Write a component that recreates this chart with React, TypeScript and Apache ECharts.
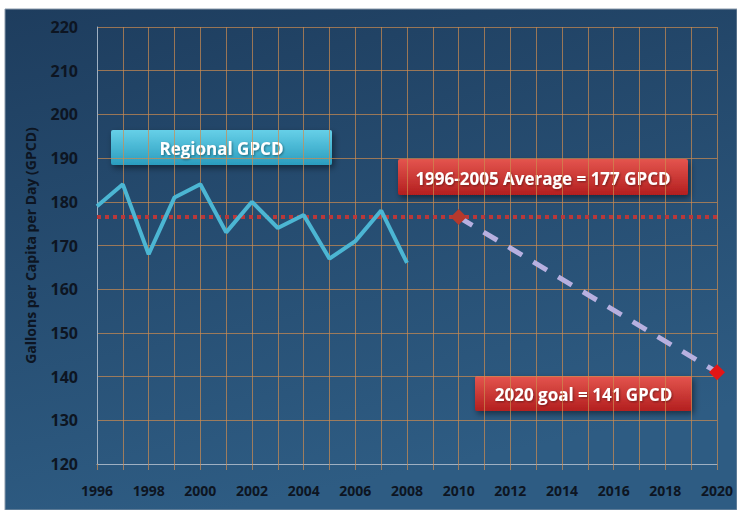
import React, { useEffect, useRef } from "react";
import * as echarts from "echarts";

const years = [1996, 1997, 1998, 1999, 2000, 2001, 2002, 2003, 2004, 2005, 2006, 2007, 2008];
const regionalGpcd = [179, 184, 168, 181, 184, 173, 180, 174, 177, 167, 171, 178, 166];
const averageYears = [1996, 2020];
const averageValue = 176.5;
const goalYears = [2010, 2020];
const goalValues = [176.5, 141];
const labels = ["Regional GPCD", "1996-2005 Average = 177 GPCD", "2020 goal = 141 GPCD"];

const FONT = "'Open Sans', Lato, sans-serif";

function box(x: number, y: number, w: number, h: number, text: string, top: string, bottom: string) {
  return {
    type: "group",
    x,
    y,
    children: [
      {
        type: "rect",
        shape: { x: 0, y: 0, width: w, height: h, r: 2 },
        style: {
          fill: new echarts.graphic.LinearGradient(0, 0, 0, 1, [
            { offset: 0, color: top },
            { offset: 1, color: bottom },
          ]),
          shadowBlur: 6,
          shadowOffsetX: 2,
          shadowOffsetY: 3,
          shadowColor: "rgba(0,0,0,0.45)",
        },
      },
      {
        type: "text",
        x: w / 2,
        y: h / 2 + 1,
        style: {
          text,
          fill: "#ffffff",
          fontFamily: FONT,
          fontWeight: "bold",
          fontSize: 17,
          align: "center",
          verticalAlign: "middle",
          textShadowColor: "rgba(0,0,0,0.4)",
          textShadowBlur: 2,
          textShadowOffsetX: 1,
          textShadowOffsetY: 1,
        },
      },
    ],
  };
}

export default function App() {
  const ref = useRef<HTMLDivElement>(null);
  useEffect(() => {
    document.body.style.margin = "0";
    const chart = echarts.init(ref.current!, null, { renderer: "svg" });
    const grid = "rgba(205,140,80,0.7)";
    chart.setOption({
      animation: false,
      backgroundColor: "#ffffff",
      textStyle: { fontFamily: FONT },
      grid: { left: 97, right: 20, top: 27, bottom: 46 },
      graphic: [
        {
          type: "rect",
          z: -10,
          silent: true,
          shape: { x: 5, y: 9, width: 732, height: 501 },
          style: {
            fill: new echarts.graphic.LinearGradient(0, 0, 0.3, 1, [
              { offset: 0, color: "#1e3d5e" },
              { offset: 1, color: "#2e5c83" },
            ]),
            stroke: "#8a9aab",
            lineWidth: 1,
          },
        },
        box(111, 130, 221, 35, labels[0], "#66d0e8", "#2a9cbe"),
        box(398, 159, 290, 36, labels[1], "#e4554e", "#b31f1f"),
        box(475, 376, 217, 35, labels[2], "#e4554e", "#b31f1f"),
      ],
      xAxis: {
        type: "value",
        min: 1996,
        max: 2020,
        interval: 1,
        axisLine: { show: true, lineStyle: { color: "#9fb0c2", width: 1 } },
        axisTick: { show: true, length: 6, lineStyle: { color: grid, width: 1 } },
        splitLine: { show: true, lineStyle: { color: grid, width: 1 } },
        axisLabel: {
          margin: 19,
          color: "#0d1522",
          fontSize: 14,
          fontWeight: "bold",
          fontFamily: FONT,
          formatter: (v: number) => (v % 2 === 0 ? String(v) : ""),
        },
      },
      yAxis: {
        type: "value",
        min: 120,
        max: 220,
        interval: 10,
        name: "Gallons per Capita per Day (GPCD)",
        nameLocation: "middle",
        nameGap: 60,
        nameTextStyle: { color: "#0d1522", fontSize: 14, fontWeight: "bold", fontFamily: FONT },
        axisLine: { show: true, lineStyle: { color: "#9fb0c2", width: 1 } },
        axisTick: { show: false },
        splitLine: { show: true, lineStyle: { color: grid, width: 1 } },
        axisLabel: { margin: 19, color: "#0d1522", fontSize: 16, fontWeight: "bold", fontFamily: FONT },
      },
      series: [
        {
          type: "line",
          name: "average",
          data: averageYears.map((y) => [y, averageValue]),
          symbol: "none",
          lineStyle: { color: "#b8383a", width: 4, type: [4, 4] },
          z: 2,
        },
        {
          type: "line",
          name: "Regional GPCD",
          data: years.map((y, i) => [y, regionalGpcd[i]]),
          symbol: "none",
          lineStyle: { color: "#4cb6d3", width: 4 },
          z: 3,
        },
        {
          type: "line",
          name: "goal",
          data: goalYears.map((y, i) => ({
            value: [y, goalValues[i]],
            itemStyle: { color: i === 0 ? "#b5392c" : "#e31515" },
          })),
          symbol: "diamond",
          symbolSize: 16,
          lineStyle: { color: "#b7b0e0", width: 5, type: [16, 13] },
          z: 4,
        },
      ],
    });
    return () => chart.dispose();
  }, []);
  return <div ref={ref} style={{ width: 737, height: 510 }} />;
}
